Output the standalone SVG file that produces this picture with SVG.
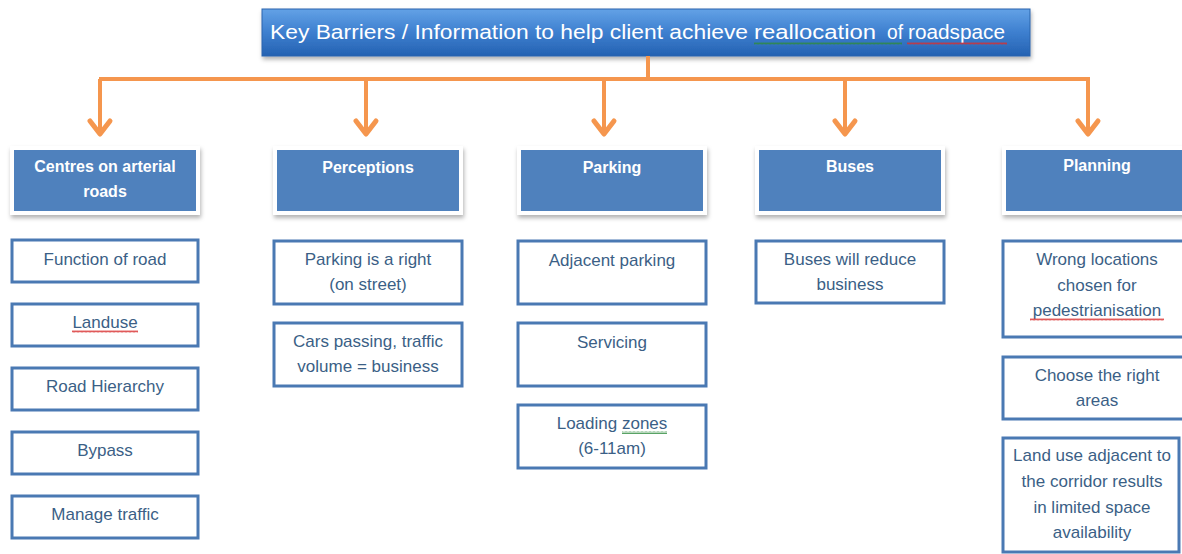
<svg xmlns="http://www.w3.org/2000/svg" width="1182" height="554" viewBox="0 0 1182 554">
  <defs>
    <style>
      .title { font-family: "Liberation Sans", Arial, sans-serif; font-size: 20px; fill: #ffffff; }
      .head-box { fill: #4f81bd; stroke: #ffffff; stroke-width: 4; }
      .head-text { font-family: "Liberation Sans", Arial, sans-serif; font-size: 16px; font-weight: bold; fill: #ffffff; text-anchor: middle; }
      .item-box { fill: #ffffff; stroke: #4a79b3; stroke-width: 3; }
      .item-text { font-family: "Liberation Sans", Arial, sans-serif; font-size: 17px; fill: #3b5f86; text-anchor: middle; }
      .conn { fill: none; stroke: #f5964e; stroke-width: 4; }
      .head { fill: none; stroke: #f5964e; stroke-width: 5; stroke-linecap: round; stroke-linejoin: round; }
    </style>
    <linearGradient id="titleFill" x1="0" y1="0" x2="0" y2="1">
      <stop offset="0" stop-color="#63a2e6"/>
      <stop offset="0.5" stop-color="#3d7fcf"/>
      <stop offset="1" stop-color="#2562b2"/>
    </linearGradient>
    <filter id="shadow" x="-10%" y="-20%" width="120%" height="150%">
      <feDropShadow dx="1" dy="3" stdDeviation="2" flood-color="#000000" flood-opacity="0.3"/>
    </filter>
    <pattern id="wavyRed" width="4" height="3" patternUnits="userSpaceOnUse">
      <path d="M0 2.5 L1 0.5 L2 2.5 L3 0.5 L4 2.5" fill="none" stroke="#d83030" stroke-width="0.8"/>
    </pattern>
    <pattern id="wavyGreen" width="4" height="3" patternUnits="userSpaceOnUse">
      <path d="M0 2.5 L1 0.5 L2 2.5 L3 0.5 L4 2.5" fill="none" stroke="#2e8b3e" stroke-width="0.8"/>
    </pattern>
  </defs>

  <rect width="1182" height="554" fill="#ffffff"/>

  <!-- title -->
  <g id="title">
    <rect x="262" y="9" width="768" height="47" fill="url(#titleFill)" stroke="#2a64ad" stroke-width="1" filter="url(#shadow)"/>
    <text class="title" x="270" y="39" textLength="478" lengthAdjust="spacingAndGlyphs">Key Barriers / Information to help client achieve</text>
    <text class="title" x="754" y="39" textLength="122" lengthAdjust="spacingAndGlyphs">reallocation</text>
    <text class="title" x="887" y="39" textLength="16" lengthAdjust="spacingAndGlyphs">of</text>
    <text class="title" x="908" y="39" textLength="97" lengthAdjust="spacingAndGlyphs">roadspace</text>
    <rect x="754" y="42" width="148" height="3" fill="url(#wavyGreen)"/>
    <rect x="907" y="42" width="100" height="3" fill="url(#wavyRed)"/>
  </g>

  <!-- connectors -->
  <g id="connectors">
    <path class="conn" d="M648 56 V79 M99 79 H1090"/>
    <path class="conn" d="M100 79 V132 M366 79 V132 M604 79 V132 M845 79 V132 M1088 79 V132"/>
    <path class="head" d="M90 121 L100 134 L110 121"/>
    <path class="head" d="M356 121 L366 134 L376 121"/>
    <path class="head" d="M594 121 L604 134 L614 121"/>
    <path class="head" d="M835 121 L845 134 L855 121"/>
    <path class="head" d="M1078 121 L1088 134 L1098 121"/>
  </g>

  <!-- column headers -->
  <g id="h-centres">
    <rect class="head-box" x="12" y="148" width="186" height="65" filter="url(#shadow)"/>
    <text class="head-text" x="105" y="172">Centres on arterial</text>
    <text class="head-text" x="105" y="197">roads</text>
  </g>
  <g id="h-perceptions">
    <rect class="head-box" x="275" y="148" width="186" height="65" filter="url(#shadow)"/>
    <text class="head-text" x="368" y="173">Perceptions</text>
  </g>
  <g id="h-parking">
    <rect class="head-box" x="519" y="148" width="186" height="65" filter="url(#shadow)"/>
    <text class="head-text" x="612" y="173">Parking</text>
  </g>
  <g id="h-buses">
    <rect class="head-box" x="757" y="148" width="186" height="65" filter="url(#shadow)"/>
    <text class="head-text" x="850" y="172">Buses</text>
  </g>
  <g id="h-planning">
    <rect class="head-box" x="1004" y="148" width="186" height="65" filter="url(#shadow)"/>
    <text class="head-text" x="1097" y="171">Planning</text>
  </g>

  <!-- Centres on arterial roads -->
  <g id="n-function">
    <rect class="item-box" x="12" y="240" width="186" height="42"/>
    <text class="item-text" x="105" y="265">Function of road</text>
  </g>
  <g id="n-landuse">
    <rect class="item-box" x="12" y="304" width="186" height="42"/>
    <text class="item-text" x="105" y="328">Landuse</text>
    <rect x="72" y="330" width="66" height="3" fill="url(#wavyRed)"/>
  </g>
  <g id="n-hierarchy">
    <rect class="item-box" x="12" y="368" width="186" height="42"/>
    <text class="item-text" x="105" y="392">Road Hierarchy</text>
  </g>
  <g id="n-bypass">
    <rect class="item-box" x="12" y="432" width="186" height="42"/>
    <text class="item-text" x="105" y="456">Bypass</text>
  </g>
  <g id="n-manage">
    <rect class="item-box" x="12" y="496" width="186" height="42"/>
    <text class="item-text" x="105" y="520">Manage traffic</text>
  </g>

  <!-- Perceptions -->
  <g id="n-right">
    <rect class="item-box" x="274" y="241" width="188" height="63"/>
    <text class="item-text" x="368" y="265">Parking is a right</text>
    <text class="item-text" x="368" y="290">(on street)</text>
  </g>
  <g id="n-cars">
    <rect class="item-box" x="274" y="323" width="188" height="63"/>
    <text class="item-text" x="368" y="347">Cars passing, traffic</text>
    <text class="item-text" x="368" y="372">volume = business</text>
  </g>

  <!-- Parking -->
  <g id="n-adjacent">
    <rect class="item-box" x="518" y="241" width="188" height="63"/>
    <text class="item-text" x="612" y="266">Adjacent parking</text>
  </g>
  <g id="n-servicing">
    <rect class="item-box" x="518" y="323" width="188" height="63"/>
    <text class="item-text" x="612" y="348">Servicing</text>
  </g>
  <g id="n-loading">
    <rect class="item-box" x="518" y="405" width="188" height="63"/>
    <text class="item-text" x="612" y="429">Loading zones</text>
    <text class="item-text" x="612" y="454">(6-11am)</text>
    <rect x="622" y="431" width="45" height="3" fill="url(#wavyGreen)"/>
  </g>

  <!-- Buses -->
  <g id="n-reduce">
    <rect class="item-box" x="756" y="241" width="188" height="62"/>
    <text class="item-text" x="850" y="265">Buses will reduce</text>
    <text class="item-text" x="850" y="290">business</text>
  </g>

  <!-- Planning -->
  <g id="n-wrong">
    <rect class="item-box" x="1003" y="241" width="188" height="96"/>
    <text class="item-text" x="1097" y="265">Wrong locations</text>
    <text class="item-text" x="1097" y="291">chosen for</text>
    <text class="item-text" x="1097" y="316">pedestrianisation</text>
    <rect x="1030" y="318" width="134" height="3" fill="url(#wavyRed)"/>
  </g>
  <g id="n-choose">
    <rect class="item-box" x="1003" y="357" width="188" height="62"/>
    <text class="item-text" x="1097" y="381">Choose the right</text>
    <text class="item-text" x="1097" y="406">areas</text>
  </g>
  <g id="n-landuse-adj">
    <rect class="item-box" x="1003" y="438" width="176" height="114"/>
    <text class="item-text" x="1092" y="461">Land use adjacent to</text>
    <text class="item-text" x="1092" y="487">the corridor results</text>
    <text class="item-text" x="1092" y="513">in limited space</text>
    <text class="item-text" x="1092" y="538">availability</text>
  </g>
</svg>
